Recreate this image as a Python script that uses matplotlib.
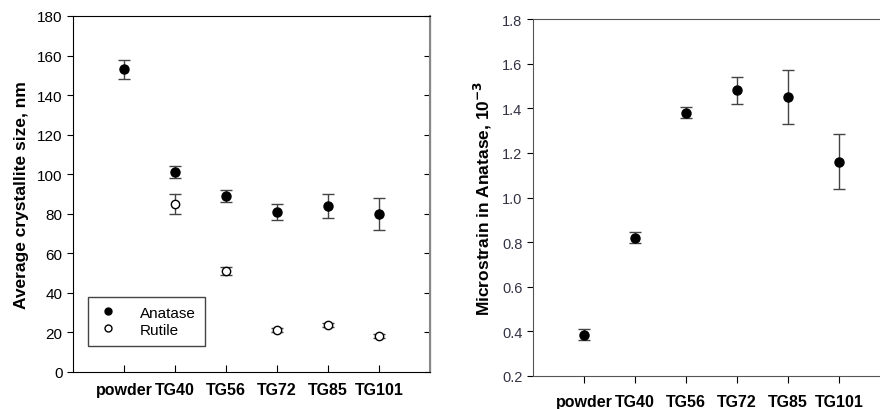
import numpy as np
import matplotlib.pyplot as plt
from matplotlib.lines import Line2D

plt.rcParams['font.family'] = ['Liberation Sans', 'DejaVu Sans']

samples = ['powder', 'TG40', 'TG56', 'TG72', 'TG85', 'TG101']

# crystallite size, nm
anatase_size = [153, 101, 89, 81, 84, 80]
anatase_err = [5, 3, 3, 4, 6, 8]
rutile_size = [np.nan, 85, 51, 21, 24, 18]
rutile_err = [np.nan, 5, 2, 1, 1, 1]

# microstrain in anatase, 10^-3
strain = [0.385, 0.82, 1.38, 1.48, 1.45, 1.16]
strain_err = [0.025, 0.025, 0.025, 0.06, 0.12, 0.123]

x = np.arange(1, len(samples) + 1)

fig = plt.figure(figsize=(8.8, 4.1), dpi=100)
W, H = 880, 410

# left panel: crystallite size
ax1 = fig.add_axes([73 / W, 1 - 373 / H, 357 / W, 356 / H])
ax1.errorbar(x, anatase_size, yerr=anatase_err, fmt='o', color='black', ms=6.5,
             ecolor='#444444', elinewidth=1, capsize=4)
ax1.errorbar(x, rutile_size, yerr=rutile_err, fmt='o', mfc='white', mec='black', ms=6,
             ecolor='#444444', elinewidth=1, capsize=4)
ax1.set_xlim(0, 7)
ax1.set_ylim(0, 180)
ax1.set_yticks(range(0, 181, 20))
ax1.set_xticks(x)
ax1.set_xticklabels(samples, fontweight='bold', fontsize=11.5)
ax1.tick_params(axis='x', direction='in', length=5, pad=7)
ax1.tick_params(axis='y', direction='out', length=4, labelsize=11)
ax1.set_ylabel('Average crystallite size, nm', fontweight='bold', fontsize=12.5, labelpad=6)
# inward ticks on right spine
ax1r = ax1.secondary_yaxis('right')
ax1r.set_yticks(range(0, 181, 20))
ax1r.tick_params(direction='in', length=4, labelright=False)
ax1.spines['right'].set_color('#888888')
ax1.spines['right'].set_linewidth(1.5)

handles = [Line2D([], [], ls='none', marker='o', color='black', ms=5),
           Line2D([], [], ls='none', marker='o', mfc='white', mec='black', ms=5)]
leg = ax1.legend(handles, ['Anatase', 'Rutile'], loc='lower left',
                 bbox_to_anchor=(0.042, 0.073), borderaxespad=0, fancybox=False,
                 frameon=True, edgecolor='#444444', fontsize=11, handletextpad=1.4,
                 borderpad=0.6, labelspacing=0.2, handlelength=1.4, framealpha=1)
leg.get_frame().set_linewidth(1)

# right panel: microstrain
ax2 = fig.add_axes([533 / W, 1 - 377 / H, 357 / W, 357 / H])
ax2.errorbar(x, strain, yerr=strain_err, fmt='o', color='black', ms=6.5,
             ecolor='#444444', elinewidth=1, capsize=4)
ax2.set_xlim(0, 7)
ax2.set_ylim(0.2, 1.8)
ax2.set_yticks(np.arange(0.2, 1.81, 0.2))
ax2.yaxis.set_major_formatter(plt.FormatStrFormatter('%.1f'))
ax2.set_xticks(x)
ax2.set_xticklabels(samples, fontweight='bold', fontsize=11.5)
ax2.tick_params(axis='x', direction='out', length=5, pad=8)
ax2.tick_params(axis='y', direction='out', length=4, labelsize=10.5, labelcolor='#333344')
ax2.set_ylabel('Microstrain in Anatase, 10$^{\\mathbf{-3}}$', fontweight='bold', fontsize=12.5,
               labelpad=6)
for s in ax2.spines.values():
    s.set_color('#555555')

fig.savefig('out.png', dpi=100)
